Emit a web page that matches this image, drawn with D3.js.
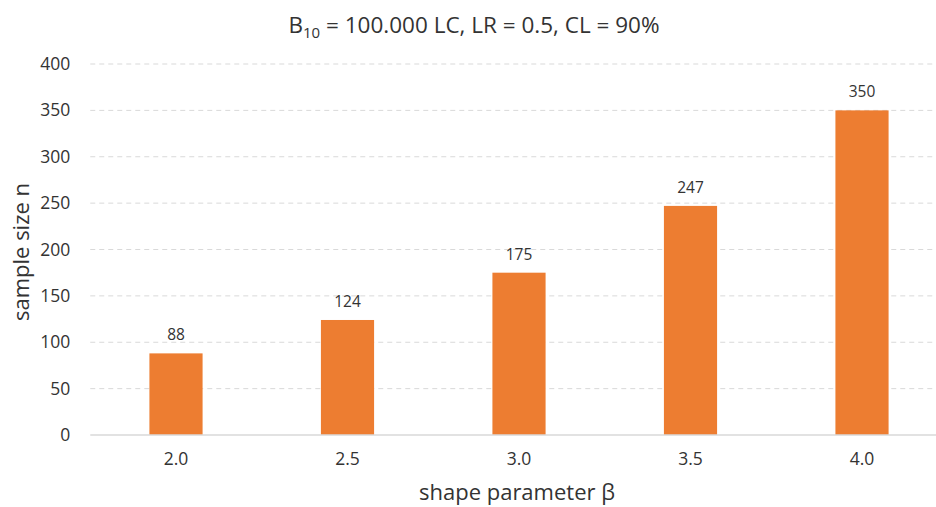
<!DOCTYPE html>
<html><head><meta charset="utf-8">
<script src="https://cdn.jsdelivr.net/npm/d3@7"></script>
<style>body{margin:0;background:#fff}svg{display:block}text{font-family:"Open Sans","Noto Sans",sans-serif}</style>
</head><body><svg id="c" width="936" height="507"></svg>
<script>
const categories = ["2.0","2.5","3.0","3.5","4.0"];
const values = [88,124,175,247,350];
const yTicks = [0,50,100,150,200,250,300,350,400];

const svg = d3.select("#c");
const W = 936, H = 507;
const TXT = "#333333";
const FONT = '"Open Sans","Noto Sans",sans-serif';
const m = {left: 90.25, right: -11.75, top: 64, bottom: 72};
const x = d3.scaleBand().domain(categories).range([m.left, W - m.right]).paddingInner(0.69).paddingOuter(0.345);
const y = d3.scaleLinear().domain([0,400]).range([H - m.bottom, m.top]);

// gridlines
svg.append("g").selectAll("line").data(yTicks.filter(d=>d>0)).join("line")
  .attr("x1", m.left).attr("x2", W - m.right)
  .attr("y1", d=>y(d)).attr("y2", d=>y(d))
  .attr("stroke","#d9d9d9").attr("stroke-width",1).attr("stroke-dasharray","5,4");

// bars
svg.append("g").selectAll("rect").data(values).join("rect")
  .attr("x",(d,i)=>x(categories[i])).attr("width",x.bandwidth())
  .attr("y",d=>y(d)).attr("height",d=>y(0)-y(d)).attr("fill","#ED7D31");

// baseline
svg.append("line").attr("x1",m.left).attr("x2",W-m.right).attr("y1",y(0)).attr("y2",y(0))
  .attr("stroke","#d9d9d9").attr("stroke-width",1.3);

// value labels
svg.append("g").selectAll("text").data(values).join("text")
  .attr("x",(d,i)=>x(categories[i])+x.bandwidth()/2).attr("y",d=>y(d)-13)
  .attr("text-anchor","middle").attr("font-size",15.5).attr("fill",TXT).text(d=>d);

// y axis
const ya = svg.append("g").attr("transform",`translate(${m.left},0)`)
  .call(d3.axisLeft(y).tickValues(yTicks).tickSize(0).tickPadding(20));
ya.select(".domain").remove();
ya.selectAll("text").attr("font-size",17.5).attr("fill",TXT).style("font-family",FONT);

// x axis
const xa = svg.append("g").attr("transform",`translate(0,${y(0)})`)
  .call(d3.axisBottom(x).tickSize(0).tickPadding(18));
xa.select(".domain").remove();
xa.selectAll("text").attr("font-size",17.5).attr("fill",TXT).style("font-family",FONT);

// title
const t = svg.append("text").attr("x",474).attr("y",33).attr("text-anchor","middle")
  .attr("font-size",22.5).attr("fill",TXT);
t.append("tspan").text("B");
t.append("tspan").attr("font-size",15).attr("dy",5).text("10");
t.append("tspan").attr("dy",-5).text(" = 100.000 LC, LR = 0.5, CL = 90%");

// axis titles
svg.append("text").attr("x",517).attr("y",500).attr("text-anchor","middle")
  .attr("font-size",22).attr("fill",TXT).text("shape parameter β");
svg.append("text").attr("transform",`translate(29,252) rotate(-90)`)
  .attr("text-anchor","middle").attr("font-size",22).attr("fill",TXT).text("sample size n");
</script></body></html>
